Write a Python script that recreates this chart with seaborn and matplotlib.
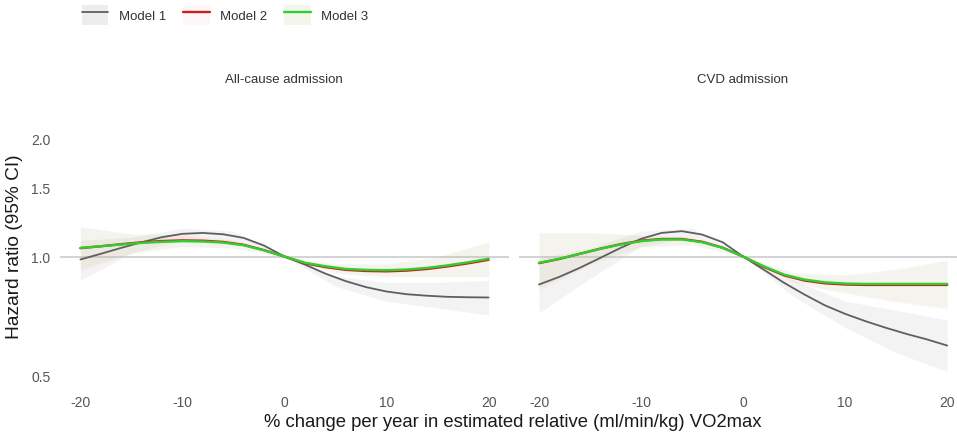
import numpy as np
import pandas as pd
import matplotlib
matplotlib.use("Agg")
import matplotlib.pyplot as plt
import seaborn as sns
from matplotlib.lines import Line2D
from matplotlib.patches import Patch
from matplotlib.legend_handler import HandlerTuple
from matplotlib.ticker import FixedLocator, NullLocator

# ---------------- data ----------------
panels = ["All-cause admission", "CVD admission"]
models = ["Model 1", "Model 2", "Model 3"]

x_line = [-20, -18, -16, -14, -12, -10, -8, -6, -4, -2, 0,
          2, 4, 6, 8, 10, 12, 14, 16, 18, 20]

# All-cause admission
allcause_m1 = [0.983, 1.016, 1.052, 1.087, 1.120, 1.142, 1.148, 1.139, 1.115, 1.066, 1.000,
               0.954, 0.905, 0.866, 0.836, 0.815, 0.802, 0.795, 0.790, 0.788, 0.787]
allcause_m2 = [1.050, 1.062, 1.075, 1.087, 1.095, 1.099, 1.097, 1.089, 1.071, 1.038, 1.000,
               0.961, 0.940, 0.925, 0.919, 0.917, 0.921, 0.930, 0.944, 0.961, 0.981]
allcause_m3 = [1.052, 1.062, 1.073, 1.083, 1.090, 1.094, 1.092, 1.085, 1.068, 1.037, 1.000,
               0.964, 0.945, 0.930, 0.925, 0.923, 0.927, 0.936, 0.950, 0.967, 0.987]

# CVD admission
cvd_m1 = [0.849, 0.888, 0.936, 0.992, 1.052, 1.109, 1.148, 1.160, 1.137, 1.087, 1.000,
          0.927, 0.858, 0.801, 0.752, 0.715, 0.685, 0.659, 0.636, 0.616, 0.594]
cvd_m2 = [0.962, 0.986, 1.016, 1.047, 1.075, 1.097, 1.108, 1.108, 1.090, 1.053, 1.000,
          0.942, 0.896, 0.869, 0.855, 0.849, 0.847, 0.847, 0.847, 0.847, 0.847]
cvd_m3 = [0.964, 0.987, 1.016, 1.046, 1.073, 1.094, 1.105, 1.105, 1.087, 1.052, 1.000,
          0.945, 0.900, 0.874, 0.860, 0.854, 0.852, 0.852, 0.852, 0.852, 0.852]

# 95% CI bands
x_band = [-20, -15, -10, -5, 0, 5, 10, 15, 20]
allcause_m1_lo = [0.87, 1.02, 1.10, 1.09, 1.00, 0.84, 0.77, 0.74, 0.71]
allcause_m1_hi = [1.10, 1.12, 1.18, 1.16, 1.00, 0.89, 0.86, 0.86, 0.87]
allcause_m2_lo = [0.92, 1.02, 1.06, 1.05, 1.00, 0.905, 0.885, 0.885, 0.885]
allcause_m2_hi = [1.19, 1.14, 1.135, 1.105, 1.00, 0.955, 0.955, 0.995, 1.085]
allcause_m3_lo = [0.93, 1.02, 1.06, 1.05, 1.00, 0.91, 0.89, 0.89, 0.89]
allcause_m3_hi = [1.19, 1.14, 1.13, 1.10, 1.00, 0.96, 0.96, 1.00, 1.09]

cvd_m1_lo = [0.72, 0.88, 1.06, 1.12, 1.00, 0.79, 0.66, 0.57, 0.51]
cvd_m1_hi = [0.99, 1.05, 1.16, 1.18, 1.00, 0.87, 0.77, 0.73, 0.69]
cvd_m2_lo = [0.82, 0.95, 1.06, 1.07, 1.00, 0.855, 0.805, 0.765, 0.735]
cvd_m2_hi = [1.15, 1.15, 1.135, 1.12, 1.00, 0.905, 0.895, 0.925, 0.975]
cvd_m3_lo = [0.83, 0.96, 1.06, 1.07, 1.00, 0.86, 0.81, 0.77, 0.74]
cvd_m3_hi = [1.15, 1.15, 1.13, 1.12, 1.00, 0.91, 0.90, 0.93, 0.98]

x_ticks = [-20, -10, 0, 10, 20]
y_ticks = [0.5, 1.0, 1.5, 2.0]
y_ticklabels = ["0.5", "1.0", "1.5", "2.0"]

# ---------------- style ----------------
sns.set_theme(style="white")
plt.rcParams["font.family"] = ["Liberation Sans", "DejaVu Sans"]

line_colors = {"Model 1": "#5f5f5f", "Model 2": "#cc2020", "Model 3": "#2fcf2f"}
line_widths = {"Model 1": 1.3, "Model 2": 1.7, "Model 3": 1.7}
band_colors = {"Model 1": ("#d0d0d0", 0.25), "Model 2": ("#e07070", 0.035),
               "Model 3": ("#9ab860", 0.08)}

W, H = 957, 439
fig = plt.figure(figsize=(W / 100, H / 100), dpi=100)

ylim = (0.47, 2.1)
top_px, bot_px = 130.7, 386.6
ax_b = 1 - bot_px / H
ax_h = (bot_px - top_px) / H
ax_left = fig.add_axes([60 / W, ax_b, 449 / W, ax_h])
ax_right = fig.add_axes([518.6 / W, ax_b, 449 / W, ax_h])

panel_data = {
    "All-cause admission": (
        {"Model 1": allcause_m1, "Model 2": allcause_m2, "Model 3": allcause_m3},
        {"Model 1": (allcause_m1_lo, allcause_m1_hi),
         "Model 2": (allcause_m2_lo, allcause_m2_hi),
         "Model 3": (allcause_m3_lo, allcause_m3_hi)}),
    "CVD admission": (
        {"Model 1": cvd_m1, "Model 2": cvd_m2, "Model 3": cvd_m3},
        {"Model 1": (cvd_m1_lo, cvd_m1_hi),
         "Model 2": (cvd_m2_lo, cvd_m2_hi),
         "Model 3": (cvd_m3_lo, cvd_m3_hi)}),
}

for ax, panel in zip([ax_left, ax_right], panels):
    lines, bands = panel_data[panel]
    ax.set_yscale("log")
    ax.axhline(1.0, color="#d0d0d0", lw=1.3, zorder=1)
    for m in models:
        lo, hi = bands[m]
        c, a = band_colors[m]
        ax.fill_between(x_band, lo, hi, color=c, alpha=a, lw=0, zorder=2)
    for m in models:
        df = pd.DataFrame({"x": x_line, "hr": lines[m]})
        sns.lineplot(data=df, x="x", y="hr", ax=ax, color=line_colors[m],
                     lw=line_widths[m], zorder=3 + models.index(m))
    ax.set_xlim(-22, 22)
    ax.set_ylim(*ylim)
    ax.xaxis.set_major_locator(FixedLocator(x_ticks))
    ax.yaxis.set_major_locator(FixedLocator(y_ticks))
    ax.yaxis.set_minor_locator(NullLocator())
    ax.set_xticklabels([str(v) for v in x_ticks])
    ax.tick_params(axis="both", length=0, labelsize=10, labelcolor="#555555")
    ax.tick_params(axis="x", pad=7)
    ax.tick_params(axis="y", pad=7)
    ax.set_xlabel("")
    ax.set_ylabel("")
    for s in ax.spines.values():
        s.set_visible(False)
    ax.grid(False)
    ax.set_facecolor("none")

ax_left.set_yticklabels(y_ticklabels)
ax_right.set_yticklabels([])

fig.text(14.5 / W, 1 - 246.5 / H, "Hazard ratio (95% CI)", rotation=90,
         ha="center", va="center", fontsize=13.8, color="#1a1a1a")
fig.text(284 / W, 1 - 80 / H, panels[0], ha="center", va="center",
         fontsize=9.5, color="#333333")
fig.text(743 / W, 1 - 80 / H, panels[1], ha="center", va="center",
         fontsize=9.5, color="#333333")
fig.text(512.5 / W, 1 - 423 / H, "% change per year in estimated relative (ml/min/kg) VO2max",
         ha="center", va="center", fontsize=13.3, color="#1a1a1a")

handles = []
for m in models:
    c, a = band_colors[m]
    handles.append((Patch(facecolor=c, alpha=min(1, a * 1.5), edgecolor="none"),
                    Line2D([], [], color=line_colors[m], lw=line_widths[m])))
fig.legend(handles, models, handler_map={tuple: HandlerTuple(ndivide=1, pad=0)},
           loc="center left", bbox_to_anchor=(70 / W, 1 - 16 / H), ncol=3,
           frameon=False, fontsize=9.5, handlelength=2.0, handleheight=2.0,
           handletextpad=0.8, columnspacing=1.3, labelcolor="#333333")

fig.savefig("out.png", dpi=100)
